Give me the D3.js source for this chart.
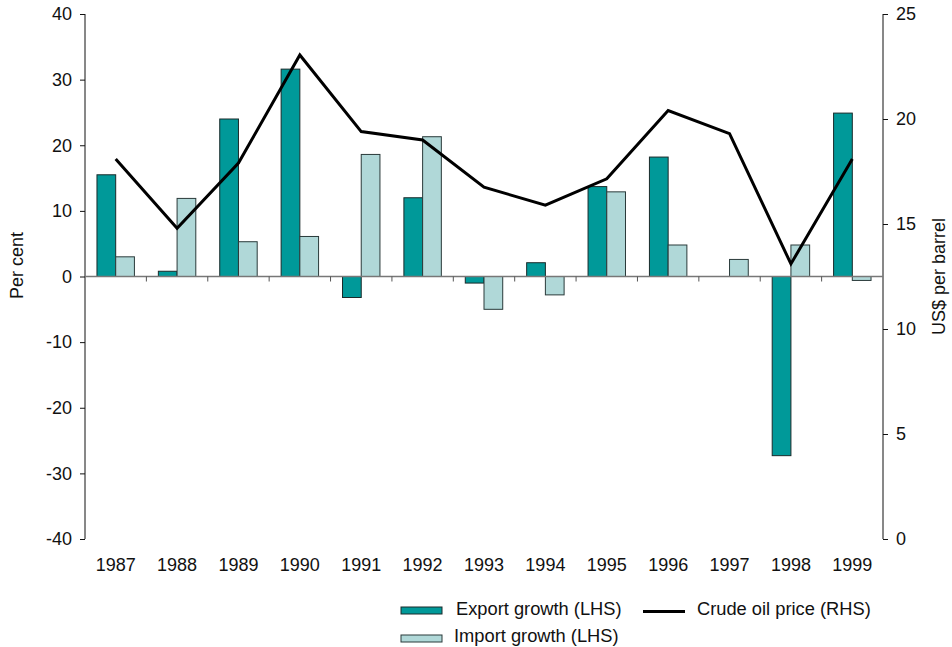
<!DOCTYPE html>
<html>
<head>
<meta charset="utf-8">
<script src="https://cdn.jsdelivr.net/npm/d3@7"></script>
<style>
  body { margin: 0; background: #fff; }
  text { font-family: "Liberation Sans", Arial, sans-serif; fill: #111; }
</style>
</head>
<body>
<svg id="chart" width="952" height="647"></svg>
<script>
// data
let years = ["1987", "1988", "1989", "1990", "1991", "1992", "1993", "1994", "1995", "1996", "1997", "1998", "1999"]
let exportGrowth = [15.5, 0.8, 24.0, 31.6, -3.2, 12.0, -1.0, 2.1, 13.7, 18.2, 0, -27.3, 24.9]
let importGrowth = [3.0, 11.9, 5.3, 6.1, 18.6, 21.3, -5.0, -2.8, 12.9, 4.8, 2.6, 4.8, -0.6]
let oilPrice = [18.1, 14.8, 17.9, 23.05, 19.4, 19.0, 16.75, 15.9, 17.15, 20.4, 19.3, 13.1, 18.1]
let leftTicks = [-40, -30, -20, -10, 0, 10, 20, 30, 40]
let rightTicks = [0, 5, 10, 15, 20, 25]

let exportColor = "#009999"
let importColor = "#b0d8d8"
let fs = "18px"

let margin = { left: 85, right: 69, top: 14, bottom: 108 }
let width = 952 - margin.left - margin.right
let height = 647 - margin.top - margin.bottom

let svg = d3.select('#chart')
    .append('g')
    .attr("transform", "translate(" + margin.left + "," + margin.top + ")")

let x = d3.scaleBand().domain(years).range([0, width]).padding(0)
let yL = d3.scaleLinear().domain([-40, 40]).range([height, 0])
let yR = d3.scaleLinear().domain([0, 25]).range([height, 0])
let barW = x.bandwidth() * 0.305

// left axis (plain hyphen for negatives, as in the original)
let leftAxis = svg.append("g")
    .call(d3.axisLeft(yL).tickValues(leftTicks).tickSize(5).tickPadding(8).tickFormat(d => String(d)))
leftAxis.select(".domain").attr("stroke", "#111").attr("d", "M0,0V" + height)
leftAxis.selectAll(".tick line").attr("stroke", "#111")
leftAxis.selectAll("text").style("font-size", fs).attr("fill", "#111")

// right axis
let rightAxis = svg.append("g")
    .attr("transform", "translate(" + width + ",0)")
    .call(d3.axisRight(yR).tickValues(rightTicks).tickSize(5).tickPadding(8))
rightAxis.select(".domain").attr("stroke", "#111").attr("d", "M0,0V" + height)
rightAxis.selectAll(".tick line").attr("stroke", "#111")
rightAxis.selectAll("text").style("font-size", fs).attr("fill", "#111")

// bars
svg.selectAll(".exp")
    .data(exportGrowth)
    .enter().append("rect")
    .attr("class", "exp")
    .attr("x", (d, i) => x(years[i]) + x.bandwidth() / 2 - barW)
    .attr("y", d => yL(Math.max(0, d)))
    .attr("width", barW)
    .attr("height", d => Math.abs(yL(d) - yL(0)))
    .style("fill", exportColor)
    .style("stroke", d => d === 0 ? "none" : "#1a2a2a")
    .style("stroke-width", 1)

svg.selectAll(".imp")
    .data(importGrowth)
    .enter().append("rect")
    .attr("class", "imp")
    .attr("x", (d, i) => x(years[i]) + x.bandwidth() / 2)
    .attr("y", d => yL(Math.max(0, d)))
    .attr("width", barW)
    .attr("height", d => Math.abs(yL(d) - yL(0)))
    .style("fill", importColor)
    .style("stroke", "#2a3a3a")
    .style("stroke-width", 1)

// zero line with category ticks
svg.append("line")
    .attr("x1", 0).attr("x2", width)
    .attr("y1", yL(0)).attr("y2", yL(0))
    .style("stroke", "#777").style("stroke-width", 1.5)

svg.selectAll(".ctick")
    .data(years.slice(1))
    .enter().append("line")
    .attr("x1", d => x(d)).attr("x2", d => x(d))
    .attr("y1", yL(0)).attr("y2", yL(0) + 5)
    .style("stroke", "#555")

// year labels
svg.selectAll(".year")
    .data(years)
    .enter().append("text")
    .attr("x", d => x(d) + x.bandwidth() / 2)
    .attr("y", height + 32)
    .attr("text-anchor", "middle")
    .style("font-size", fs)
    .text(d => d)

// oil price line
let line = d3.line()
    .x((d, i) => x(years[i]) + x.bandwidth() / 2)
    .y(d => yR(d))
svg.append("path")
    .datum(oilPrice)
    .attr("d", line)
    .style("fill", "none")
    .style("stroke", "#000")
    .style("stroke-width", 3)

// axis titles
svg.append("text")
    .attr("transform", "translate(" + (-62) + "," + (yL(0) - 11) + ") rotate(-90)")
    .attr("text-anchor", "middle")
    .style("font-size", fs)
    .text("Per cent")

svg.append("text")
    .attr("transform", "translate(" + (width + 62) + "," + yL(0) + ") rotate(-90)")
    .attr("text-anchor", "middle")
    .style("font-size", fs)
    .text("US$ per barrel")

// legend
let legend = d3.select('#chart').append("g")
legend.append("rect")
    .attr("x", 401).attr("y", 607).attr("width", 41).attr("height", 7)
    .style("fill", exportColor).style("stroke", "#1a2a2a")
legend.append("text").attr("x", 456).attr("y", 615).style("font-size", "18.3px").text("Export growth (LHS)")
legend.append("rect")
    .attr("x", 401).attr("y", 635).attr("width", 41).attr("height", 7)
    .style("fill", importColor).style("stroke", "#2a3a3a")
legend.append("text").attr("x", 454).attr("y", 642).style("font-size", "18.3px").text("Import growth (LHS)")
legend.append("line")
    .attr("x1", 643).attr("x2", 685).attr("y1", 611.5).attr("y2", 611.5)
    .style("stroke", "#000").style("stroke-width", 3)
legend.append("text").attr("x", 697).attr("y", 615).style("font-size", "18.3px").text("Crude oil price (RHS)")
</script>
</body>
</html>
